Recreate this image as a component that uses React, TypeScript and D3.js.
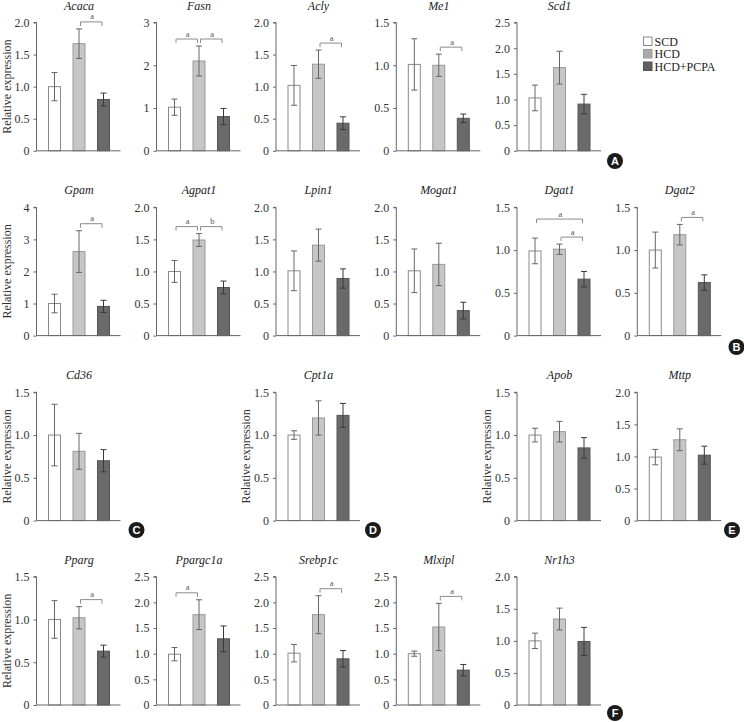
import * as d3 from 'd3';
import React from 'react';
import { useRef, useEffect } from 'react';

const groups = ['SCD', 'HCD', 'HCD+PCPA'];

const genes = [
  'Acaca', 'Fasn', 'Acly', 'Me1', 'Scd1',
  'Gpam', 'Agpat1', 'Lpin1', 'Mogat1', 'Dgat1', 'Dgat2',
  'Cd36', 'Cpt1a', 'Apob', 'Mttp',
  'Pparg', 'Ppargc1a', 'Srebp1c', 'Mlxipl', 'Nr1h3',
];

// mean relative expression per gene: SCD, HCD, HCD+PCPA
const means = [
  [1.0, 1.67, 0.8], [1.02, 2.1, 0.8], [1.02, 1.35, 0.43], [1.01, 1.0, 0.38], [1.03, 1.62, 0.91],
  [1.0, 2.62, 0.91], [1.0, 1.49, 0.75], [1.01, 1.41, 0.89], [1.01, 1.11, 0.39], [0.99, 1.01, 0.66], [1.0, 1.18, 0.62],
  [1.0, 0.81, 0.7], [1.0, 1.2, 1.23], [1.0, 1.04, 0.85], [0.99, 1.26, 1.02],
  [1.0, 1.02, 0.63], [0.99, 1.76, 1.29], [1.01, 1.76, 0.9], [1.0, 1.52, 0.68], [1.0, 1.34, 0.99],
];

// standard errors
const errors = [
  [0.22, 0.23, 0.1], [0.19, 0.35, 0.19], [0.31, 0.22, 0.1], [0.3, 0.13, 0.05], [0.25, 0.32, 0.19],
  [0.29, 0.65, 0.19], [0.17, 0.1, 0.1], [0.31, 0.25, 0.15], [0.34, 0.33, 0.13], [0.15, 0.06, 0.09], [0.21, 0.12, 0.09],
  [0.36, 0.21, 0.13], [0.05, 0.2, 0.14], [0.08, 0.12, 0.12], [0.12, 0.17, 0.14],
  [0.22, 0.13, 0.07], [0.13, 0.29, 0.25], [0.17, 0.37, 0.16], [0.05, 0.46, 0.11], [0.12, 0.17, 0.22],
];

const yMax = [2, 3, 2, 1.5, 2.5, 4, 2, 2, 2, 1.5, 1.5, 1.5, 1.5, 1.5, 2, 1.5, 2.5, 2.5, 2.5, 2];
const yStep = [0.5, 1, 0.5, 0.5, 0.5, 1, 0.5, 0.5, 0.5, 0.5, 0.5, 0.5, 0.5, 0.5, 0.5, 0.5, 0.5, 0.5, 0.5, 0.5];

// significance brackets: gene, from group, to group, label, stack level
const brackets: [string, number, number, string, number][] = [
  ['Acaca', 1, 2, 'a', 0],
  ['Fasn', 0, 1, 'a', 0],
  ['Fasn', 1, 2, 'a', 0],
  ['Acly', 1, 2, 'a', 0],
  ['Me1', 1, 2, 'a', 0],
  ['Gpam', 1, 2, 'a', 0],
  ['Agpat1', 0, 1, 'a', 0],
  ['Agpat1', 1, 2, 'b', 0],
  ['Dgat1', 1, 2, 'a', 0],
  ['Dgat1', 0, 2, 'a', 1],
  ['Dgat2', 1, 2, 'a', 0],
  ['Pparg', 1, 2, 'a', 0],
  ['Ppargc1a', 0, 1, 'a', 0],
  ['Srebp1c', 1, 2, 'a', 0],
  ['Mlxipl', 1, 2, 'a', 0],
];

// layout: [row, column] of each gene panel
const panelPos = [
  [0, 0], [0, 1], [0, 2], [0, 3], [0, 4],
  [1, 0], [1, 1], [1, 2], [1, 3], [1, 4], [1, 5],
  [2, 0], [2, 2], [2, 4], [2, 5],
  [3, 0], [3, 1], [3, 2], [3, 3], [3, 4],
];
const withYLabel = ['Acaca', 'Gpam', 'Cd36', 'Cpt1a', 'Apob', 'Pparg'];
const rowTop = [22.5, 207.3, 392.3, 576.7];
const colCenter = [54.5, 174.5, 294, 414.3, 535, 655.3];
const panelLetters = [
  { t: 'A', x: 615, y: 161 },
  { t: 'B', x: 736.5, y: 347 },
  { t: 'C', x: 136.5, y: 530 },
  { t: 'D', x: 373, y: 530 },
  { t: 'E', x: 732, y: 530 },
  { t: 'F', x: 615, y: 713 },
];

const fills = ['#ffffff', '#c6c6c6', '#6a6a6a'];
const strokes = ['#8a8a8a', '#9a9a9a', '#555555'];
const legendFills = ['#ffffff', '#ababab', '#606060'];

const SERIF = "'Liberation Serif', 'Times New Roman', serif";

export default function App() {
  const svgRef = useRef<SVGSVGElement | null>(null);

  useEffect(() => {
    if (!svgRef.current) return;
    const svg = d3.select(svgRef.current);
    svg.selectAll('*').remove();

    const plotH = 128.3;
    const band = 24.5;

    genes.forEach((gene, gi) => {
      const [row, col] = panelPos[gi];
      const top = rowTop[row];
      const bottom = top + plotH;
      const c0 = colCenter[col];
      const axisX = c0 - 18;
      const axisEnd = axisX + 84;

      const x = d3
        .scaleBand()
        .domain(groups)
        .range([c0 - band / 2, c0 + band * 2.5])
        .paddingInner(0.47)
        .paddingOuter(0.235);
      const y = d3.scaleLinear().domain([0, yMax[gi]]).range([bottom, top]);

      const g = svg.append('g');

      // title
      g.append('text')
        .attr('x', (x('HCD') as number) + x.bandwidth() / 2)
        .attr('y', top - 13)
        .attr('text-anchor', 'middle')
        .style('font-family', SERIF)
        .style('font-style', 'italic')
        .style('font-size', '12px')
        .attr('fill', '#222')
        .text(gene);

      // bars
      groups.forEach((grp, k) => {
        const m = means[gi][k];
        g.append('rect')
          .attr('x', (x(grp) as number) + 0.5)
          .attr('y', y(m))
          .attr('width', x.bandwidth() - 1)
          .attr('height', bottom - y(m))
          .attr('fill', fills[k])
          .attr('stroke', strokes[k])
          .attr('stroke-width', 1);
      });

      // error bars
      groups.forEach((grp, k) => {
        const m = means[gi][k];
        const e = errors[gi][k];
        const cx = (x(grp) as number) + x.bandwidth() / 2;
        const lc = k === 2 ? '#3a3a3a' : '#666';
        g.append('line')
          .attr('x1', cx).attr('x2', cx)
          .attr('y1', y(m - e)).attr('y2', y(m + e))
          .attr('stroke', lc).attr('stroke-width', 1);
        [m - e, m + e].forEach((v) => {
          g.append('line')
            .attr('x1', cx - 3).attr('x2', cx + 3)
            .attr('y1', y(v)).attr('y2', y(v))
            .attr('stroke', lc).attr('stroke-width', 1);
        });
      });

      // axes
      const ticks = d3.range(0, yMax[gi] + 1e-9, yStep[gi]);
      const yAxis = d3
        .axisLeft(y)
        .tickValues(ticks)
        .tickSize(3)
        .tickPadding(4)
        .tickFormat((v) => (+v === 0 ? '0' : yStep[gi] < 1 ? (+v).toFixed(1) : String(v)));
      const ax = g.append('g').attr('transform', `translate(${axisX},0)`).call(yAxis);
      ax.attr('font-family', null).attr('font-size', null);
      ax.select('.domain').attr('stroke', '#666').attr('d', `M-3,${top}H0V${bottom}`);
      ax.selectAll('.tick line').attr('stroke', '#666');
      ax.selectAll('.tick text')
        .style('font-family', SERIF)
        .style('font-size', '12px')
        .attr('fill', '#333');

      g.append('line')
        .attr('x1', axisX).attr('x2', axisEnd)
        .attr('y1', bottom).attr('y2', bottom)
        .attr('stroke', '#666').attr('stroke-width', 1);

      if (withYLabel.includes(gene)) {
        g.append('text')
          .attr('transform', `translate(${axisX - 26},${(top + bottom) / 2}) rotate(-90)`)
          .attr('text-anchor', 'middle')
          .style('font-family', SERIF)
          .style('font-size', '12px')
          .attr('fill', '#333')
          .text('Relative expression');
      }

      // significance brackets
      const own = brackets.filter((b) => b[0] === gene);
      const base = (from: number, to: number) => {
        let hi = 0;
        for (let k = from; k <= to; k++) hi = Math.max(hi, means[gi][k] + errors[gi][k]);
        return hi;
      };
      const lowY = d3.min(own.filter((b) => b[4] === 0), (b) => y(base(b[1], b[2])) - 7) ?? 0;
      own.forEach(([, from, to, label, level]) => {
        const x1 = (x(groups[from]) as number) + x.bandwidth() / 2 + 1.5;
        const x2 = (x(groups[to]) as number) + x.bandwidth() / 2 - 1.5;
        const by = level === 0 ? y(base(from, to)) - 7 : lowY - 18 * level;
        g.append('path')
          .attr('d', `M${x1},${by + 4}V${by}H${x2}V${by + 4}`)
          .attr('fill', 'none')
          .attr('stroke', '#8c8c8c')
          .attr('stroke-width', 1);
        g.append('text')
          .attr('x', (x1 + x2) / 2 + 1)
          .attr('y', by - 2.5)
          .attr('text-anchor', 'middle')
          .style('font-family', SERIF)
          .style('font-size', '8.5px')
          .attr('fill', '#555')
          .text(label);
      });
    });

    // legend
    const lg = svg.append('g').attr('transform', 'translate(643,36.5)');
    groups.forEach((grp, k) => {
      lg.append('rect')
        .attr('x', 0.5)
        .attr('y', k * 12.5 + 0.5)
        .attr('width', 8.5)
        .attr('height', 8.5)
        .attr('fill', legendFills[k])
        .attr('stroke', strokes[k]);
      lg.append('text')
        .attr('x', 11.5)
        .attr('y', k * 12.5 + 9)
        .style('font-family', SERIF)
        .style('font-size', '12px')
        .attr('fill', '#222')
        .text(grp);
    });

    // panel letters
    panelLetters.forEach((p) => {
      svg.append('circle').attr('cx', p.x).attr('cy', p.y).attr('r', 8).attr('fill', '#1b1b1b');
      svg
        .append('text')
        .attr('x', p.x)
        .attr('y', p.y + 4)
        .attr('text-anchor', 'middle')
        .style('font-family', "'Liberation Sans', Arial, sans-serif")
        .style('font-weight', 'bold')
        .style('font-size', '11px')
        .attr('fill', '#fff')
        .text(p.t);
    });
  }, []);

  return (
    <svg
      ref={svgRef}
      width={744}
      height={722}
      style={{ position: 'absolute', left: 0, top: 0, background: '#fff' }}
    />
  );
}
